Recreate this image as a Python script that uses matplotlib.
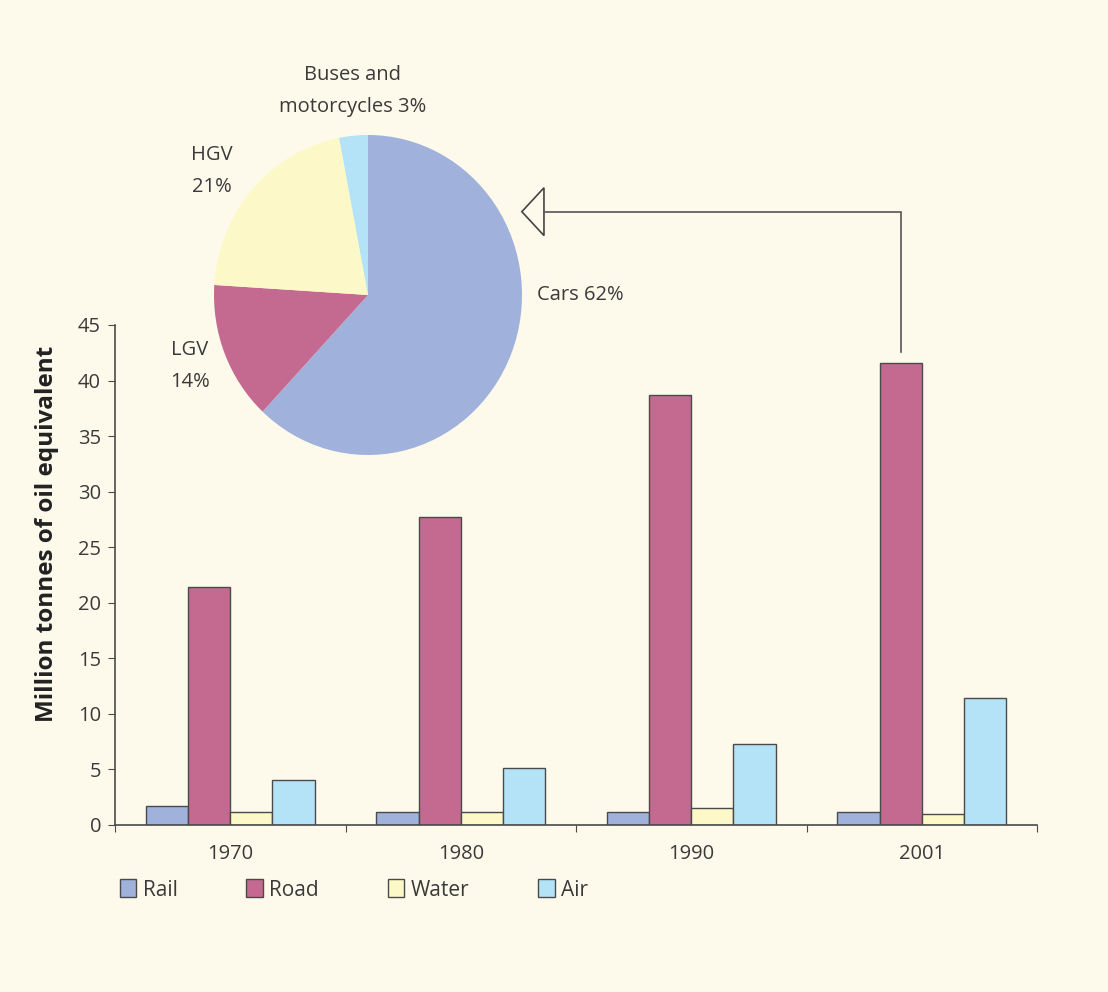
import matplotlib.pyplot as plt
from matplotlib.patches import Polygon
import numpy as np

plt.rcParams['font.family'] = ['Open Sans', 'DejaVu Sans']

# bar chart data (million tonnes of oil equivalent)
years = ['1970', '1980', '1990', '2001']
modes = ['Rail', 'Road', 'Water', 'Air']
rail = [1.7, 1.2, 1.2, 1.2]
road = [21.4, 27.7, 38.7, 41.6]
water = [1.2, 1.2, 1.5, 1.0]
air = [4.05, 5.1, 7.3, 11.4]

# pie: breakdown of road use in 2001
pie_labels = ['Cars 62%', 'LGV\n14%', 'HGV\n21%', 'Buses and\nmotorcycles 3%']
pie_shares = [62, 14, 21, 3]

colors = ['#a0b1dc', '#c4698f', '#fdf8c8', '#b4e2f6']
bg = '#fdfaec'
edge = '#4a4a4a'
text_col = '#3a3a3a'

W, H = 1108, 992
fig = plt.figure(figsize=(W / 100, H / 100), dpi=100, facecolor=bg)

# main bar axes
ax = fig.add_axes([115 / W, 1 - 825 / H, 922 / W, 500 / H])
ax.set_facecolor('none')
x = np.arange(len(years))
w = 0.183
series = [rail, road, water, air]
for i, (vals, c) in enumerate(zip(series, colors)):
    ax.bar(x + (i - 1.5) * w, vals, w, color=c, edgecolor=edge, linewidth=1, label=modes[i])

ax.set_xlim(-0.5, 3.5)
ax.set_ylim(0, 45)
ax.set_yticks(range(0, 46, 5))
ax.set_xticks(np.arange(-0.5, 3.6, 1))
ax.set_xticklabels([])
ax.set_xticks(x, minor=True)
ax.set_xticklabels(years, minor=True)
ax.tick_params(axis='x', which='minor', length=0, pad=14)
ax.tick_params(axis='x', which='major', length=5, color=edge)
ax.tick_params(axis='y', length=5, color=edge, pad=5)
for lab in ax.get_xticklabels(minor=True) + ax.get_yticklabels():
    lab.set_fontsize(14.5)
    lab.set_color(text_col)
for s in ['top', 'right']:
    ax.spines[s].set_visible(False)
for s in ['left', 'bottom']:
    ax.spines[s].set_color(edge)
    ax.spines[s].set_linewidth(1.2)
ax.set_ylabel('Million tonnes of oil equivalent', fontsize=17.5, fontweight='bold',
              color='#222222')
ax.yaxis.set_label_coords(-56 / 922, 0.582)

# callout arrow from the 2001 road bar to the pie
xr = x[-1] - 0.5 * w
ytop = 55.2
ax.plot([xr, xr, 1.361], [road[-1] + 1.0, ytop, ytop], color='#555555', lw=1.2,
        clip_on=False, solid_joinstyle='miter')
ax.add_patch(Polygon([[1.265, ytop], [1.361, ytop + 2.15], [1.361, ytop - 2.15]],
                     closed=True, facecolor=bg, edgecolor='#444444', lw=1.2, clip_on=False))

# legend
fig.legend(loc='center left', bbox_to_anchor=(101 / W, 1 - 890 / H), ncol=4, frameon=False,
           handlelength=0.8, handleheight=0.95, handletextpad=0.3, columnspacing=3.3,
           prop={'size': 15}, labelcolor=text_col)

# pie chart (slightly taller than wide, as in the source)
RX, RY = 154, 160
pax = fig.add_axes([(368 - RX) / W, 1 - (295 + RY) / H, 2 * RX / W, 2 * RY / H])
pax.pie(pie_shares, colors=colors, startangle=90, counterclock=False,
        wedgeprops={'linewidth': 0})
pax.set_aspect('auto')
pax.set_xlim(-1, 1)
pax.set_ylim(-1, 1)
pax.axis('off')

label_pos = [(537, 295, 'left'), (190, 366, 'center'), (212, 171, 'center'),
             (353, 91, 'center')]
for lab, (px, py, ha) in zip(pie_labels, label_pos):
    fig.text(px / W, 1 - py / H, lab, ha=ha, va='center',
             fontsize=14.5, color=text_col, linespacing=1.75)

fig.savefig('out.png', dpi=100, facecolor=bg)
